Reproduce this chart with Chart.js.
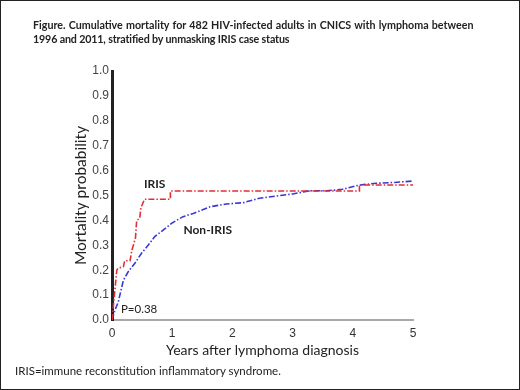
<!DOCTYPE html>
<html>
<head>
<meta charset="utf-8">
<script src="https://cdn.jsdelivr.net/npm/chart.js@4"></script>
<style>
  html, body { margin: 0; padding: 0; background: #fff; }
  #frame { position: relative; width: 518px; height: 388px; border: 1px solid #222; overflow: hidden; }
  #chartBox { position: absolute; left: -1px; top: -1px; width: 520px; height: 390px; }
  .caption { position: absolute; font-family: Lato, "Open Sans", sans-serif; color: #222; white-space: nowrap; }
  #title1 { left: 32px; top: 17px; font-size: 10.7px; font-weight: bold; }
  #title2 { left: 32px; top: 31px; font-size: 10.7px; font-weight: bold; letter-spacing: -0.15px; }
  #foot { left: 14px; top: 363px; font-size: 11.5px; }
</style>
</head>
<body>
<div id="frame">
  <div id="chartBox"><canvas id="mortalityChart" width="520" height="390"></canvas></div>
  <div class="caption" id="title1">Figure. Cumulative mortality for 482 HIV-infected adults in CNICS with lymphoma between</div>
  <div class="caption" id="title2">1996 and 2011, stratified by unmasking IRIS case status</div>
  <div class="caption" id="foot">IRIS=immune reconstitution inflammatory syndrome.</div>
</div>
<script>
// years after diagnosis / cumulative mortality
const irisYears = [0, 0.08, 0.10, 0.19, 0.21, 0.30, 0.33, 0.39, 0.41, 0.46, 0.48, 0.54, 0.97, 0.97, 4.11, 4.11, 5.0];
const irisMortality = [0, 0.20, 0.208, 0.214, 0.238, 0.238, 0.28, 0.33, 0.40, 0.408, 0.45, 0.485, 0.485, 0.518, 0.518, 0.542, 0.542];

const nonIrisYears = [0, 0.05, 0.105, 0.15, 0.19, 0.27, 0.38, 0.49, 0.60, 0.71, 0.85, 0.99, 1.07, 1.18, 1.35, 1.63, 1.90, 2.18, 2.45, 2.73, 3.0, 3.28, 3.56, 3.83, 4.11, 4.39, 4.66, 5.0];
const nonIrisMortality = [0, 0.04, 0.073, 0.12, 0.16, 0.194, 0.228, 0.268, 0.30, 0.335, 0.361, 0.388, 0.40, 0.415, 0.428, 0.455, 0.466, 0.471, 0.489, 0.498, 0.506, 0.519, 0.519, 0.525, 0.542, 0.549, 0.552, 0.558];

const xTicks = [0, 1, 2, 3, 4, 5];
const yTicks = [0, 0.1, 0.2, 0.3, 0.4, 0.5, 0.6, 0.7, 0.8, 0.9, 1.0];

// text labels placed in data coordinates
const notes = [
  { text: 'IRIS', x: 0.71, y: 0.546, bold: true },
  { text: 'Non-IRIS', x: 1.59, y: 0.361, bold: true },
  { text: 'P=0.38', x: 0.45, y: 0.044, bold: false }
];

// stretch the first title line like the justified original
const t1 = document.getElementById('title1');
const gaps = t1.textContent.split(' ').length - 1;
t1.style.wordSpacing = ((440 - t1.scrollWidth) / gaps) + 'px';

function toPoints(xs, ys) {
  return xs.map((x, i) => ({ x: x, y: ys[i] }));
}

const notePlugin = {
  id: 'notes',
  afterDatasetsDraw(chart) {
    const c = chart.ctx;
    const xs = chart.scales.x, ys = chart.scales.y;
    c.save();
    c.fillStyle = '#222';
    c.textAlign = 'center';
    c.textBaseline = 'middle';
    notes.forEach(n => {
      c.font = (n.bold ? 'bold 12px' : '11.5px') + ' Lato, "Open Sans", sans-serif';
      c.fillText(n.text, xs.getPixelForValue(n.x), ys.getPixelForValue(n.y));
    });
    c.restore();
  }
};

const ctx = document.getElementById('mortalityChart').getContext('2d');
const mortalityChart = new Chart(ctx, {
  type: 'scatter',
  data: {
    datasets: [{
      label: 'IRIS',
      data: toPoints(irisYears, irisMortality),
      showLine: true,
      borderColor: 'rgb(225, 45, 55)',
      borderWidth: 1.6,
      borderDash: [6, 2, 1.5, 2],
      pointRadius: 0,
      tension: 0
    }, {
      label: 'Non-IRIS',
      data: toPoints(nonIrisYears, nonIrisMortality),
      showLine: true,
      borderColor: 'rgb(55, 55, 215)',
      borderWidth: 1.6,
      borderDash: [6, 2, 1.5, 2],
      pointRadius: 0,
      tension: 0
    }]
  },
  options: {
    responsive: false,
    animation: false,
    layout: { padding: { left: 70, right: 107, top: 71, bottom: 30 } },
    plugins: {
      legend: { display: false },
      tooltip: { enabled: false }
    },
    scales: {
      x: {
        type: 'linear',
        min: 0,
        max: 5,
        afterBuildTicks: axis => { axis.ticks = xTicks.map(v => ({ value: v })); },
        afterFit: axis => { axis.height = 40; },
        grid: { display: false, drawTicks: false },
        border: { color: '#a8a8a8', width: 2 },
        ticks: { padding: 6, color: '#333', font: { family: 'Liberation Sans, Arial', size: 12 } },
        title: {
          display: true,
          text: 'Years after lymphoma diagnosis',
          color: '#222',
          padding: { bottom: 1 },
          font: { family: 'Lato, "Open Sans", sans-serif', size: 14 }
        }
      },
      y: {
        min: 0,
        max: 1,
        afterBuildTicks: axis => { axis.ticks = yTicks.map(v => ({ value: v })); },
        afterFit: axis => { axis.width = 42; },
        grid: { display: false, drawTicks: false },
        border: { color: '#222', width: 3 },
        ticks: {
          padding: 3,
          color: '#444',
          font: { family: 'Liberation Sans, Arial', size: 12 },
          callback: v => v.toFixed(1)
        },
        title: {
          display: true,
          text: 'Mortality probability',
          color: '#222',
          padding: { top: 2 },
          font: { family: 'Lato, "Open Sans", sans-serif', size: 15.5 }
        }
      }
    }
  },
  plugins: [notePlugin]
});
</script>
</body>
</html>
